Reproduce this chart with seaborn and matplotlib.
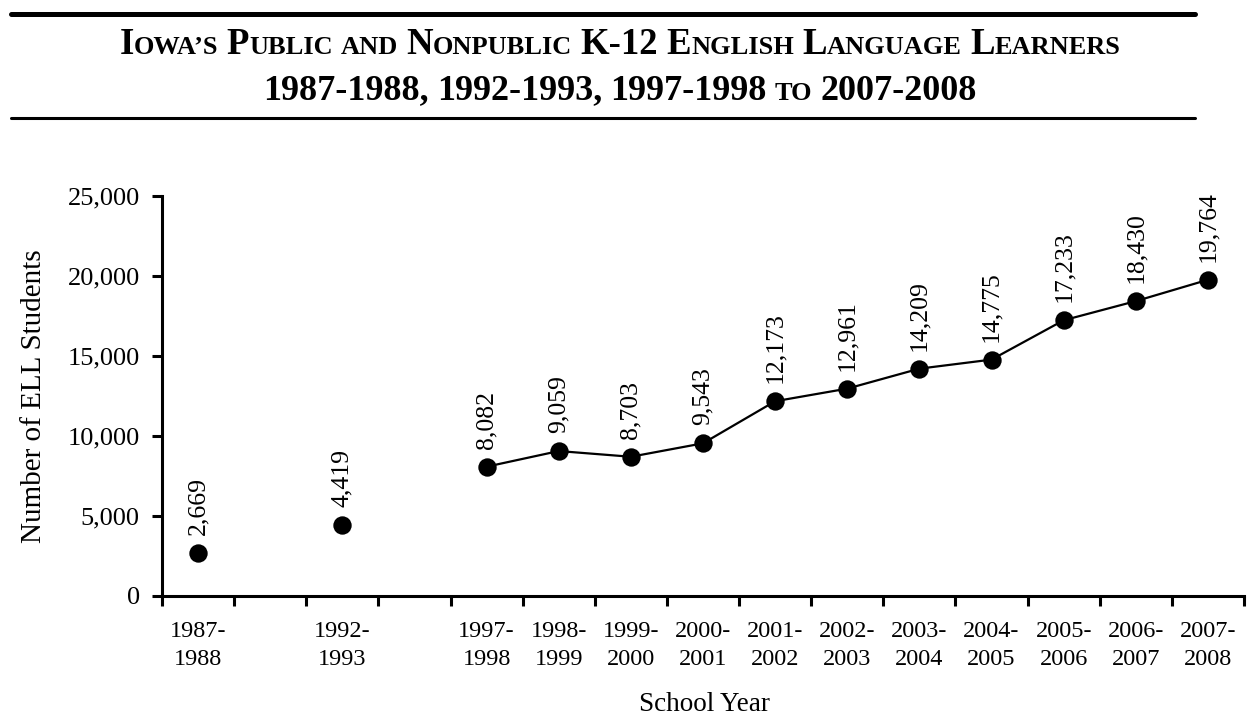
import numpy as np
import pandas as pd
import matplotlib
matplotlib.use("Agg")
import matplotlib.pyplot as plt
import seaborn as sns
from matplotlib.offsetbox import TextArea, HPacker, AnnotationBbox
from matplotlib.lines import Line2D

# ---------------- data ----------------
school_years = ["1987-1988", "", "1992-1993", "", "1997-1998", "1998-1999",
                "1999-2000", "2000-2001", "2001-2002", "2002-2003", "2003-2004",
                "2004-2005", "2005-2006", "2006-2007", "2007-2008"]
ell_students = [2669, None, 4419, None, 8082, 9059, 8703, 9543, 12173,
                12961, 14209, 14775, 17233, 18430, 19764]
connected_from = "1997-1998"
y_ticks = [0, 5000, 10000, 15000, 20000, 25000]

title_line1 = ["Iowa’s", "Public", "and", "Nonpublic", "K-12", "English",
               "Language", "Learners"]
title_line2 = ["1987-1988,", "1992-1993,", "1997-1998", "to", "2007-2008"]
x_label = "School Year"
y_label = "Number of ELL Students"

# ---------------- style ----------------
sns.set_theme(style="white")
plt.rcParams['font.family'] = ['Liberation Serif', 'DejaVu Serif']
plt.rcParams.update({
    "text.color": "black", "axes.labelcolor": "black",
    "xtick.color": "black", "ytick.color": "black",
    "axes.edgecolor": "black",
})

df = pd.DataFrame({"year": school_years, "ell": ell_students,
                   "slot": np.arange(len(school_years))})
pts = df.dropna(subset=["ell"]).copy()
start = pts.index[pts.year == connected_from][0]
seg = pts.loc[start:]

fig = plt.figure(figsize=(12.48, 7.17), dpi=100)
ax = fig.add_axes([162 / 1248, 1 - 596 / 717, (1244 - 162) / 1248, 400 / 717])

sns.lineplot(data=seg, x="slot", y="ell", color="black", linewidth=1.6,
             ax=ax, zorder=2)
sns.scatterplot(data=pts, x="slot", y="ell", color="black", s=175,
                linewidth=0, ax=ax, zorder=3)

for _, r in pts.iterrows():
    ax.annotate(f"{int(r.ell):,}", (r.slot, r.ell), xytext=(0, 13),
                textcoords="offset points", rotation=90, ha="center",
                va="bottom", fontsize=18.5)

ax.set_xlim(-0.5, len(school_years) - 0.5)
ax.set_ylim(0, 25000)
for s in ["top", "right"]:
    ax.spines[s].set_visible(False)
for s in ["left", "bottom"]:
    ax.spines[s].set_linewidth(2.2)

ax.set_xticks(np.arange(len(school_years) + 1) - 0.5)
ax.set_xticklabels([])
ax.set_xticks(pts.slot.values, minor=True)
ax.set_xticklabels([y.replace("-", "-\n") for y in pts.year], minor=True,
                   fontsize=17.5, linespacing=1.45)
ax.tick_params(axis="x", which="minor", length=0, pad=18)
ax.tick_params(axis="both", which="major", direction="out", length=7,
               width=2.2, bottom=True, left=True)
ax.set_yticks(y_ticks)
ax.set_yticklabels([f"{v:,}" for v in y_ticks], fontsize=19)
ax.tick_params(axis="y", pad=9)

ax.set_xlabel(x_label, fontsize=19.5)
ax.set_ylabel(y_label, fontsize=21)
ax.xaxis.set_label_coords(0.501, -0.24)
ax.yaxis.set_label_coords(-0.106, 0.5)


# ---------------- title (small caps) ----------------
def small_caps_line(words, big, small):
    boxes = []
    for w in words:
        runs = []
        for c in w:
            is_small = c.islower() or (c in "’'" and runs and runs[-1][1])
            if runs and runs[-1][1] == is_small:
                runs[-1][0] += c
            else:
                runs.append([c, is_small])
        parts = [TextArea(t.upper(), textprops=dict(
            fontsize=small if sm else big, fontweight="bold",
            family="Liberation Serif", color="black")) for t, sm in runs]
        boxes.append(HPacker(children=parts, align="baseline", pad=0, sep=0))
    return HPacker(children=boxes, align="baseline", pad=0, sep=6)


for words, ypos, big in [(title_line1, 1 - 44 / 717, 26.5),
                         (title_line2, 1 - 91 / 717, 26)]:
    box = small_caps_line(words, big, 19)
    ab = AnnotationBbox(box, (620 / 1248, ypos), xycoords="figure fraction",
                        box_alignment=(0.5, 0.5), frameon=False, pad=0)
    fig.add_artist(ab)

fig.add_artist(Line2D([11 / 1248, 1195 / 1248], [1 - 13.5 / 717, 1 - 13.5 / 717],
                      transform=fig.transFigure, color="black", linewidth=3.6))
fig.add_artist(Line2D([11 / 1248, 1195 / 1248], [1 - 118 / 717, 1 - 118 / 717],
                      transform=fig.transFigure, color="black", linewidth=2.2))

fig.savefig("out.png", dpi=100)
